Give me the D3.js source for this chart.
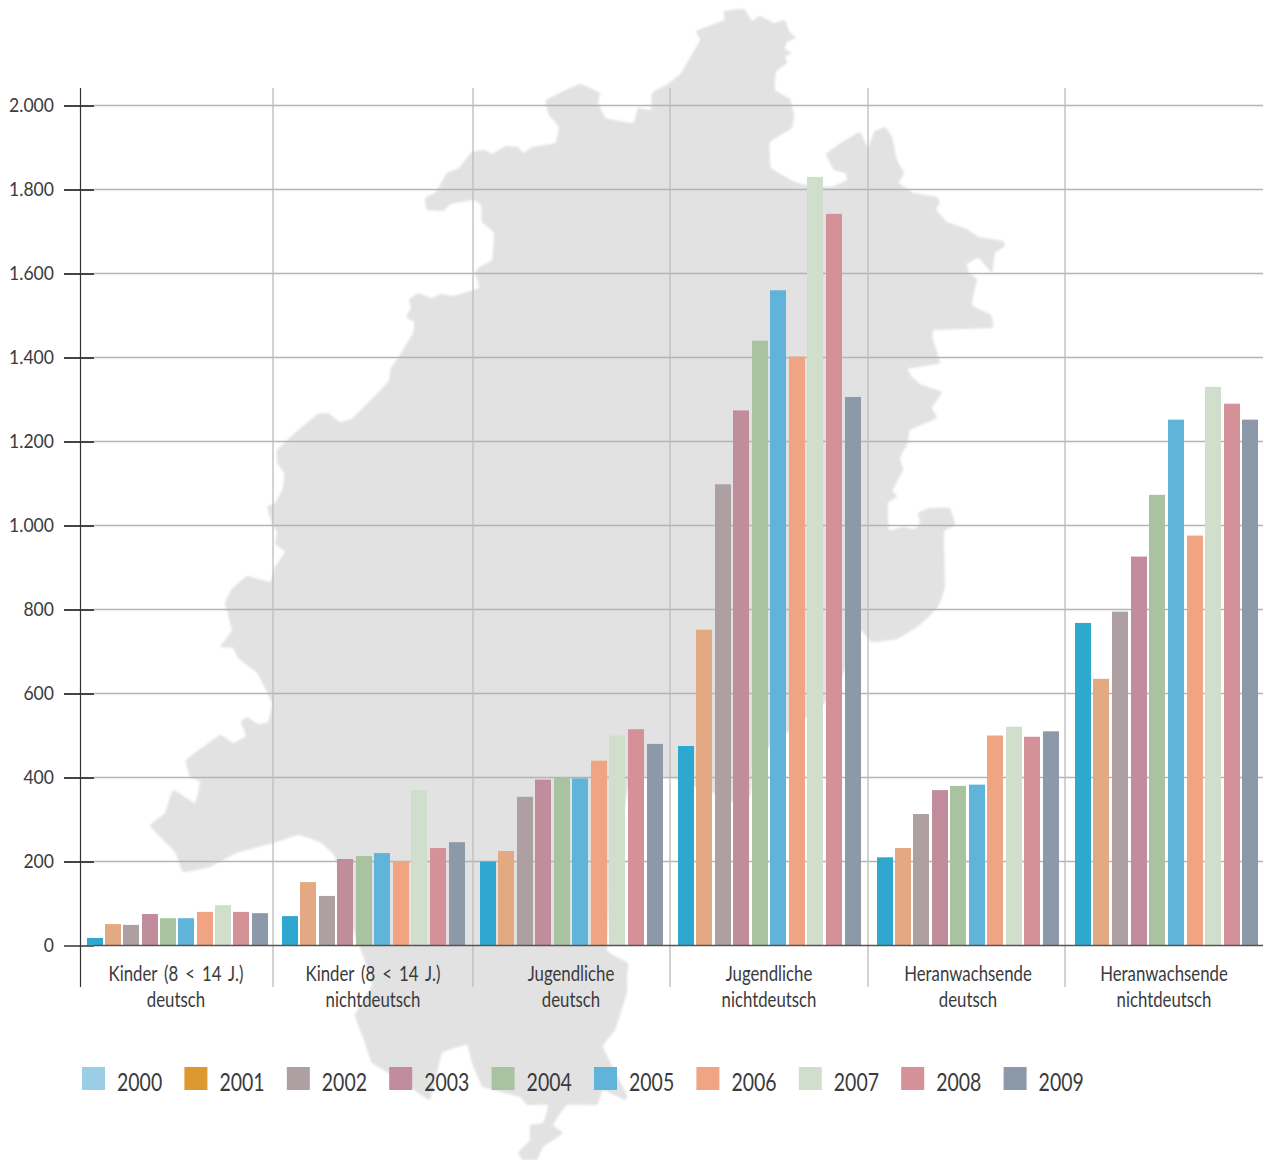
<!DOCTYPE html>
<html lang="de">
<head>
<meta charset="utf-8">
<style>
html,body{margin:0;padding:0;background:#fff}
svg{display:block}
text{font-family:Lato,"Open Sans",sans-serif;fill:#3b3a3c}
</style>
<script src="https://cdn.jsdelivr.net/npm/d3@7/dist/d3.min.js"></script>
</head>
<body>
<svg id="chart" width="1264" height="1160"></svg>
<script>
const years = ["2000","2001","2002","2003","2004","2005","2006","2007","2008","2009"];
const groupKeys = ["kd","kn","jd","jn","hd","hn"];
const groupLines = [["Kinder (8 < 14 J.)","deutsch"],["Kinder (8 < 14 J.)","nichtdeutsch"],["Jugendliche","deutsch"],["Jugendliche","nichtdeutsch"],["Heranwachsende","deutsch"],["Heranwachsende","nichtdeutsch"]];
const kinderDeutsch = [18,51,49,75,65,65,80,96,80,77];
const kinderNichtdeutsch = [70,151,118,206,213,220,200,370,232,246];
const jugendDeutsch = [200,225,354,395,400,398,440,500,515,480];
const jugendNichtdeutsch = [475,752,1098,1274,1440,1560,1402,1830,1742,1306];
const heranDeutsch = [210,232,313,370,380,383,500,521,497,510];
const heranNichtdeutsch = [768,635,795,926,1073,1252,976,1330,1290,1252];
const seriesByGroup = [kinderDeutsch,kinderNichtdeutsch,jugendDeutsch,jugendNichtdeutsch,heranDeutsch,heranNichtdeutsch];
const tickValues = [0,200,400,600,800,1000,1200,1400,1600,1800,2000];
const legendColors = ["#9bcde5","#dd9830","#ad9fa2","#c18c9c","#a9c3a0","#60b3d9","#f1a481","#d0dfcc","#d49197","#8c99a8"];
const barColors = ["#2fa8cf","#e3a983","#ad9fa2","#c18c9c","#a9c3a0","#60b3d9","#f1a481","#d0dfcc","#d49197","#8c99a8"];

// Layout (not data)
const groupLeft = d3.scaleOrdinal(groupKeys,[87,282,480,678,877,1075]);
const groupWidth = d3.scaleOrdinal(groupKeys,[181,183,183,183,182,184]);
const groupCenter = d3.scaleOrdinal(groupKeys,[176,373,571,769,968,1164]);
const separators = [273,473,670,868,1065];

// Decorative background outline
const mapOutline = [[724,11],[744,9],[752,21],[760,16],[774,23],[785,20],[789,31],[796,38],[787,42],[785,49],[792,53],[785,56],[787,63],[776,72],[775,90],[790,99],[794,115],[792,128],[770,142],[771,168],[795,182],[807,185],[831,187],[847,180],[845,173],[834,170],[826,154],[841,143],[860,132],[868,148],[874,132],[885,127],[892,137],[897,160],[904,173],[899,183],[914,193],[937,197],[940,203],[936,209],[947,222],[967,229],[979,237],[1003,241],[1005,246],[995,253],[992,273],[979,258],[967,264],[969,273],[977,279],[972,305],[991,315],[992,328],[934,330],[933,340],[940,363],[908,369],[913,378],[922,385],[942,392],[932,408],[937,418],[910,430],[908,443],[900,458],[903,470],[893,490],[897,497],[888,503],[889,530],[902,527],[915,529],[920,523],[918,513],[930,508],[950,508],[955,525],[944,532],[945,587],[938,607],[920,625],[897,639],[872,642],[860,630],[845,670],[825,703],[790,730],[755,760],[750,797],[733,802],[713,793],[695,787],[677,779],[650,776],[630,782],[620,830],[612,880],[607,950],[628,963],[627,977],[627,993],[615,1030],[603,1047],[627,1095],[625,1100],[603,1090],[597,1105],[567,1105],[553,1125],[563,1133],[543,1147],[537,1160],[523,1160],[518,1153],[530,1140],[530,1125],[543,1123],[548,1105],[527,1105],[520,1097],[483,1087],[472,1063],[467,1045],[442,1053],[430,1100],[400,1080],[372,1063],[365,1043],[355,1015],[372,985],[362,953],[353,930],[335,857],[320,842],[298,835],[277,842],[237,853],[210,867],[183,872],[175,852],[150,826],[165,813],[173,790],[195,803],[200,782],[190,777],[186,760],[220,735],[233,743],[246,736],[241,722],[247,717],[258,724],[268,722],[272,703],[257,673],[238,658],[233,648],[220,647],[232,630],[225,603],[231,590],[247,576],[270,582],[275,567],[285,552],[275,544],[277,533],[272,523],[267,507],[275,503],[283,488],[284,473],[277,463],[277,450],[295,433],[318,414],[328,413],[340,422],[353,418],[388,382],[391,368],[398,358],[413,333],[414,322],[406,317],[411,308],[409,300],[418,293],[431,298],[441,294],[453,296],[479,288],[475,273],[479,267],[492,260],[494,233],[482,222],[481,205],[473,200],[451,204],[443,211],[427,210],[425,198],[436,192],[447,173],[459,168],[472,152],[485,150],[492,154],[506,146],[518,147],[523,153],[532,147],[555,143],[559,127],[549,115],[546,100],[580,84],[600,93],[598,103],[606,118],[633,123],[638,108],[651,110],[652,93],[669,83],[681,73],[700,40],[696,31],[724,20]];

const svg = d3.select("#chart");
const defs = svg.append("defs");
defs.append("filter").attr("id","soft").append("feGaussianBlur").attr("stdDeviation",1);

svg.append("path")
  .attr("d",d3.line().curve(d3.curveCardinalClosed.tension(0.75))(mapOutline))
  .attr("fill","#e2e2e2")
  .attr("filter","url(#soft)");

const y = d3.scaleLinear().domain([0,2000]).range([945.5,105.5]);
const inner = d3.scaleBand().domain(years).paddingInner(0.135);
const fmt = d3.formatLocale({decimal:",",thousands:".",grouping:[3],currency:["","€"]}).format(",d");

// Horizontal grid
svg.append("g").selectAll("line").data(tickValues.filter(d=>d>0)).join("line")
  .attr("x1",94).attr("x2",1263)
  .attr("y1",d=>y(d)).attr("y2",d=>y(d))
  .attr("stroke","#b4b4b4").attr("stroke-width",1.3);

// Vertical separators
svg.append("g").selectAll("line").data(separators).join("line")
  .attr("x1",d=>d).attr("x2",d=>d)
  .attr("y1",88).attr("y2",987)
  .attr("stroke","#bcbcbc").attr("stroke-width",1.3);

// Bars
groupKeys.forEach((key,gi)=>{
  const band = inner.copy().range([0,groupWidth(key)]);
  svg.append("g").selectAll("rect").data(seriesByGroup[gi]).join("rect")
    .attr("x",(d,i)=>Math.floor(groupLeft(key)+band(years[i])+0.1))
    .attr("width",16)
    .attr("y",d=>y(d))
    .attr("height",d=>y(0)-y(d))
    .attr("fill",(d,i)=>barColors[i]);
});

// Y axis
const tickScale = 0.88;
const axis = d3.axisLeft(y).tickValues(tickValues).tickFormat(fmt).tickSize(30).tickPadding(40);
const ag = svg.append("g").attr("transform","translate(94,0)").call(axis);
ag.select(".domain").remove();
ag.selectAll(".tick line").attr("stroke","#2f2f2f").attr("stroke-width",1.8);
ag.selectAll(".tick:first-child line").attr("stroke","#555");
ag.selectAll(".tick text")
  .attr("font-size",20).attr("font-family",null)
  .attr("x",-40/tickScale).attr("dy",null).attr("y",5.5)
  .attr("transform",`scale(${tickScale},1)`)
  .attr("text-anchor","end");

svg.append("line").attr("x1",80.5).attr("x2",80.5).attr("y1",88).attr("y2",987)
  .attr("stroke","#333").attr("stroke-width",1.2);
svg.append("line").attr("x1",94).attr("x2",1263).attr("y1",y(0)).attr("y2",y(0))
  .attr("stroke","#555").attr("stroke-width",1.6);

// Group labels
const labelScale = 0.8;
groupKeys.forEach((key,gi)=>{
  groupLines[gi].forEach((line,li)=>{
    svg.append("text")
      .attr("transform",`translate(${groupCenter(key)},${981+li*26}) scale(${labelScale},1)`)
      .attr("text-anchor","middle").attr("font-size",21)
      .attr("word-spacing",3.4).text(line);
  });
});

// Legend
const legendX = d3.scaleBand().domain(years).range([82,1106]);
const legend = svg.append("g").selectAll("g").data(years).join("g")
  .attr("transform",d=>`translate(${legendX(d)},1067)`);
legend.append("rect").attr("width",23).attr("height",23).attr("fill",(d,i)=>legendColors[i]);
legend.append("text")
  .attr("transform","translate(35,23.5) scale(0.795,1)")
  .attr("font-size",24.5).text(d=>d);
</script>
</body>
</html>
